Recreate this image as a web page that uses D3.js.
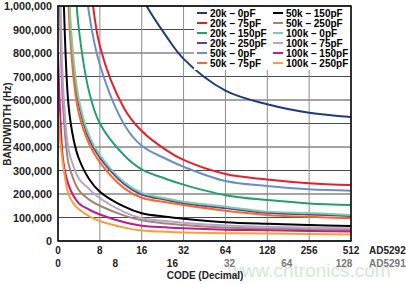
<!DOCTYPE html>
<html><head><meta charset="utf-8">
<script src="https://cdn.jsdelivr.net/npm/d3@7"></script>
<style>
html,body{margin:0;padding:0;background:#fff;}
svg{display:block;font-family:"Liberation Sans",Arial,sans-serif;font-weight:bold;}
</style></head>
<body><svg id="c" width="406" height="284"></svg>
<script>
// ---- data ----
const codes = [0, 0.5, 1, 2, 3, 4, 6, 8, 12, 16, 24, 32, 64, 128, 256, 512];
const xTicksAD5292 = [0, 8, 16, 32, 64, 128, 256, 512];
const xTicksAD5291 = [0, 8, 16, 32, 64, 128];
const yTicks = [0,100000,200000,300000,400000,500000,600000,700000,800000,900000,1000000];
const seriesNames = ["20k – 0pF","20k – 75pF","20k – 150pF","20k – 250pF","50k – 0pF","50k – 75pF",
                     "50k – 150pF","50k – 250pF","100k – 0pF","100k – 75pF","100k – 150pF","100k – 250pF"];
const seriesColors = ["#1f3a7e","#e3202c","#22a06a","#633d97","#6b8ecb","#f26a2a",
                      "#000000","#a2876a","#79cfa8","#b2a4d4","#c21a8e","#f8a033"];
// bandwidth in kHz at each code
const bw20k0   = [null,null,null,null,null,null,null,1650,1270,1040,872,775,640,582,546,528];
const bw20k75  = [null,null,null,null,null,1700,1150,830,563,468,387,345,285,262,246,238];
const bw20k150 = [null,null,null,1800,1200,900,630,500,364,305,264,240,195,174,160,153];
const bw20k250 = [null,null,2100,1060,740,580,432,355,242,198,175,161,140,120,113,106];
const bw50k0   = [null,null,null,null,null,1400,960,750,495,405,349,316,255,234,220,214];
const bw50k75  = [null,null,1800,1000,690,540,410,335,224,184,165,153,129,111,103,97];
const bw50k150 = [null,1800,1100,580,430,350,262,210,146,118,103,95,80,73,68,64];
const bw50k250 = [1500,850,560,330,260,215,175,150,108,88,74,68,57,53,50,47];
const bw100k0  = [null,null,2200,1100,770,600,445,366,250,205,181,167,146,125,119,111];
const bw100k75 = [2000,1000,650,390,315,265,220,182,123,97,85,78,66,61,57,54];
const bw100k150= [800,500,340,240,190,160,133,113,80,65,58,54,48,46,43,40];
const bw100k250= [560,410,320,200,158,135,105,85,57,45,39,36,33,32,30,28];
const seriesValues = [bw20k0,bw20k75,bw20k150,bw20k250,bw50k0,bw50k75,bw50k150,bw50k250,bw100k0,bw100k75,bw100k150,bw100k250];

// ---- layout ----
const svg = d3.select("#c");
const L = 58, R = 351, T = 6, B = 241;
const seg = (R - L) / 7;
const xLin = d3.scaleLinear().domain([0, 8]).range([L, L + seg]);
const xLog = d3.scaleLog().base(2).domain([8, 512]).range([L + seg, R]);
const x = c => c <= 8 ? xLin(c) : xLog(c);
const y = d3.scaleLinear().domain([0, 1000000]).range([B, T]);

// watermark (behind)
svg.append("text").attr("x", 228).attr("y", 277)
  .attr("font-size", 19).attr("font-weight", "normal").attr("fill", "#d3ead0")
  .text("www.cntronics.com");

// grid
const g = svg.append("g");
g.selectAll(".hg").data(yTicks).join("line")
  .attr("x1", L).attr("x2", R).attr("y1", d => y(d)).attr("y2", d => y(d))
  .attr("stroke", "#4a4a4a").attr("stroke-width", 1);
g.selectAll(".vg").data(xTicksAD5292).join("line")
  .attr("x1", d => x(d)).attr("x2", d => x(d)).attr("y1", T).attr("y2", B)
  .attr("stroke", "#8c8c8c").attr("stroke-width", 1);

// curves
svg.append("clipPath").attr("id", "clip").append("rect")
  .attr("x", L).attr("y", T).attr("width", R - L).attr("height", B - T);
const line = d3.line()
  .defined(d => d.v != null)
  .x(d => x(d.c)).y(d => y(d.v * 1000))
  .curve(d3.curveCatmullRom.alpha(0.5));
const cg = svg.append("g").attr("clip-path", "url(#clip)");
seriesValues.forEach((vals, i) => {
  cg.append("path")
    .datum(codes.map((c, j) => ({c, v: vals[j]})))
    .attr("d", line).attr("fill", "none")
    .attr("stroke", seriesColors[i]).attr("stroke-width", 2);
});

// frame
svg.append("rect").attr("x", L).attr("y", T).attr("width", R - L).attr("height", B - T)
  .attr("fill", "none").attr("stroke", "#000").attr("stroke-width", 1.5);

// legend
const lg = svg.append("g");
lg.append("rect").attr("x", 194).attr("y", 7).attr("width", 156).attr("height", 63).attr("fill", "#fff");
seriesNames.forEach((n, i) => {
  const col = Math.floor(i / 6), row = i % 6;
  const lx = col === 0 ? 197 : 273, ly = 13 + row * 10;
  lg.append("line").attr("x1", lx).attr("x2", lx + 10).attr("y1", ly).attr("y2", ly)
    .attr("stroke", seriesColors[i]).attr("stroke-width", 2);
  lg.append("text").attr("x", lx + 13).attr("y", ly + 3.6).attr("font-size", 10).text(n);
});

// y tick labels
svg.selectAll(".yl").data(yTicks).join("text")
  .attr("x", 52).attr("y", d => y(d) + 4).attr("text-anchor", "end")
  .attr("font-size", 10.8).attr("fill", "#222").text(d => d3.format(",")(d));

// x tick labels
svg.selectAll(".xl").data(xTicksAD5292).join("text")
  .attr("x", d => x(d)).attr("y", 254).attr("text-anchor", "middle")
  .attr("font-size", 10).attr("fill", "#222").text(d => d);
svg.append("text").attr("x", 369).attr("y", 254).attr("font-size", 10).attr("fill", "#222").text("AD5292");
const x2 = d3.scalePoint().domain(xTicksAD5291).range([L, R - 7]);
svg.selectAll(".xl2").data(xTicksAD5291).join("text")
  .attr("x", d => x2(d)).attr("y", 267).attr("text-anchor", "middle")
  .attr("font-size", 10).attr("fill", (d, i) => i < 3 ? "#222" : "#777").text(d => d);
svg.append("text").attr("x", 369).attr("y", 267).attr("font-size", 10).attr("fill", "#777").text("AD5291");

// axis titles
svg.append("text").attr("x", 205).attr("y", 279).attr("text-anchor", "middle")
  .attr("font-size", 10).attr("fill", "#222").text("CODE (Decimal)");
svg.append("text").attr("transform", "translate(11,124) rotate(-90)").attr("text-anchor", "middle")
  .attr("font-size", 10).attr("fill", "#222").text("BANDWIDTH (Hz)");
</script></body></html>
